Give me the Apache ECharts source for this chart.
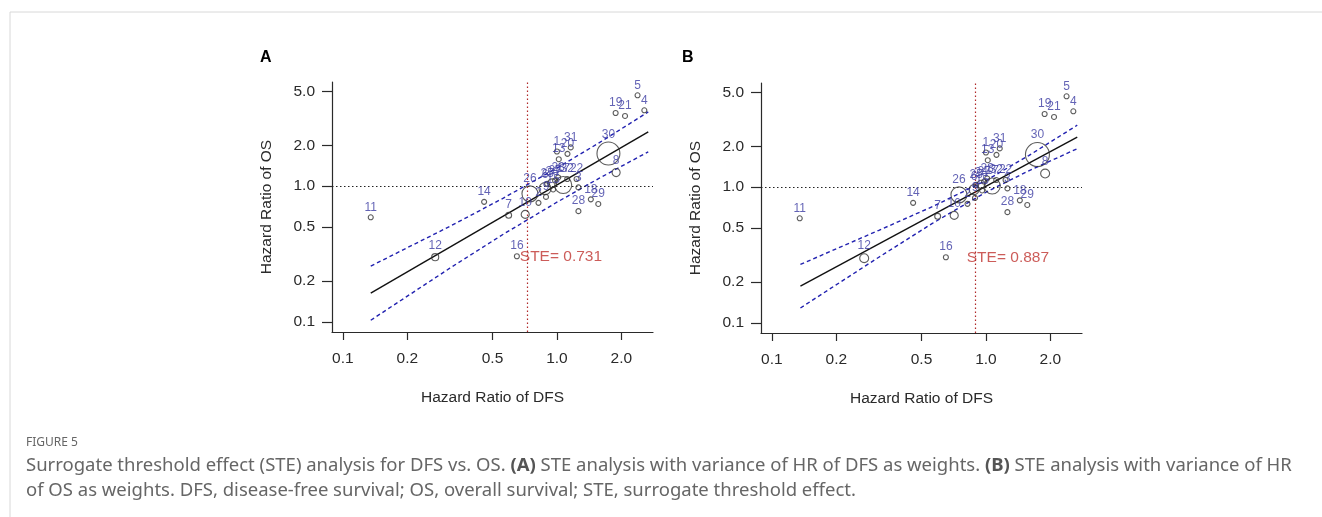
<!DOCTYPE html>
<html>
<head>
<meta charset="utf-8">
<script src="https://cdn.jsdelivr.net/npm/echarts@6/dist/echarts.min.js"></script>
<style>
  html, body { margin: 0; padding: 0; background: #fff; }
  #main { width: 1322px; height: 517px; }
</style>
</head>
<body>
<div id="main"></div>
<script>
// studies (same points in both panels)
const studyIds = ['1','2','3','4','5','6','7','8','9','10','11','12','13','14','15','16',
                  '17','18','19','20','21','22','23','24','25','26','27','28','29','30','31','32'];
const hrDFS = [1.00, 0.82, 1.26, 2.56, 2.38, 0.88, 0.595, 1.89, 0.889, 0.711, 0.135, 0.27, 1.02, 0.457, 0.96, 0.65,
               1.07, 1.44, 1.88, 1.12, 2.08, 1.235, 1.014, 0.95, 0.90, 0.748, 0.98, 1.26, 1.56, 1.74, 1.16, 1.117];
const hrOS  = [1.80, 0.754, 0.98, 3.62, 4.67, 0.96, 0.61, 1.26, 0.834, 0.62, 0.59, 0.30, 1.58, 0.767, 0.946, 0.305,
               1.02, 0.80, 3.46, 1.73, 3.29, 1.13, 1.16, 1.05, 1.04, 0.878, 1.10, 0.655, 0.74, 1.74, 1.93, 1.13];
// relative weights (panel A: 1/var HR DFS, panel B: 1/var HR OS)
const weightA = [1, 1, 1, 1, 1, 5.8, 1.4, 2.6, 1, 2.6, 1, 2.0, 1, 1, 1, 1,
                 11.6, 1, 1, 1, 1, 1, 1, 3.2, 1, 10.2, 1, 1, 1, 21, 1, 1];
const weightB = [1, 1, 1, 1, 1, 4.0, 1.4, 3.2, 1, 2.6, 1, 3.2, 1, 1, 1, 1,
                 10.2, 1, 1, 1, 1, 1, 1, 2.6, 1, 10.2, 1, 1, 1, 23, 1, 1];

// regression line and prediction limits (log-log)
const fitA   = [[0.135, 0.163], [2.67, 2.51]];
const upperA = [[0.135, 0.258], [0.316, 0.506], [0.562, 0.817], [1.0, 1.36], [1.585, 2.10], [2.67, 3.52]];
const lowerA = [[0.135, 0.103], [0.316, 0.249], [0.562, 0.443], [1.0, 0.762], [1.585, 1.15], [2.67, 1.79]];
const fitB   = [[0.136, 0.187], [2.67, 2.34]];
const upperB = [[0.136, 0.270], [0.316, 0.481], [0.562, 0.719], [1.0, 1.12], [1.585, 1.71], [2.67, 2.86]];
const lowerB = [[0.136, 0.129], [0.316, 0.305], [0.562, 0.541], [1.0, 0.918], [1.585, 1.32], [2.67, 1.92]];

const steA = 0.731;
const steB = 0.887;
const steLabelY = 0.30;

const xTicks = [0.1, 0.2, 0.5, 1.0, 2.0];
const yTicks = [0.1, 0.2, 0.5, 1.0, 2.0, 5.0];

const axisColor = '#2a2a2a';
const font = 'Liberation Sans, Arial, sans-serif';

function xAxisFor(g) {
  return {
    type: 'log', logBase: 10, gridIndex: g,
    min: 0.089, max: 2.81,
    axisLine: { show: true, onZero: false, lineStyle: { color: axisColor, width: 1.2 } },
    axisTick: { show: true, length: 8, customValues: xTicks, lineStyle: { color: axisColor, width: 1.2 } },
    axisLabel: { customValues: xTicks, formatter: v => Number(v).toFixed(1),
                 fontSize: 15.5, color: axisColor, margin: 19, fontFamily: font },
    splitLine: { show: false },
    name: 'Hazard Ratio of DFS', nameLocation: 'middle', nameGap: 58,
    nameTextStyle: { fontSize: 15.5, color: axisColor, fontFamily: font }
  };
}
function yAxisFor(g) {
  return {
    type: 'log', logBase: 10, gridIndex: g,
    min: 0.0844, max: 5.85,
    axisLine: { show: true, onZero: false, lineStyle: { color: axisColor, width: 1.2 } },
    axisTick: { show: true, length: 10, customValues: yTicks, lineStyle: { color: axisColor, width: 1.2 } },
    axisLabel: { customValues: yTicks, formatter: v => Number(v).toFixed(1),
                 fontSize: 15.5, color: axisColor, margin: 17, fontFamily: font },
    splitLine: { show: false },
    name: 'Hazard Ratio of OS', nameLocation: 'middle', nameGap: 57,
    nameTextStyle: { fontSize: 15.5, color: axisColor, fontFamily: font }
  };
}

function points(weights, g) {
  return {
    type: 'scatter', xAxisIndex: g, yAxisIndex: g, z: 5,
    data: studyIds.map((id, i) => ({ value: [hrDFS[i], hrOS[i]], name: id })),
    symbolSize: (val, p) => 5 * Math.sqrt(weights[p.dataIndex]),
    itemStyle: { color: 'rgba(0,0,0,0)', borderColor: '#333', borderWidth: 1.1 },
    label: { show: true, position: 'top', distance: 1, formatter: p => p.name,
             color: '#3c3ca2', fontSize: 12, fontFamily: font },
    labelLayout: { hideOverlap: false },
    emphasis: { disabled: true }
  };
}
function line(data, g, dashed) {
  return {
    type: 'line', xAxisIndex: g, yAxisIndex: g, data: data, symbol: 'none', smooth: false,
    lineStyle: dashed ? { color: '#2222b0', width: 1.4, type: [4, 3] } : { color: '#111', width: 1.4 },
    silent: true, z: 3
  };
}
function refLines(ste, g) {
  return {
    type: 'scatter', xAxisIndex: g, yAxisIndex: g, z: 4,
    data: [[ste, steLabelY]], symbolSize: 0,
    label: { show: true, position: 'right', distance: -8, formatter: 'STE= ' + ste,
             color: '#bf3330', fontSize: 15.5, fontFamily: font },
    markLine: {
      silent: true, symbol: 'none', label: { show: false },
      data: [
        { yAxis: 1, lineStyle: { color: '#222', type: [1.5, 2.5], width: 1.2 } },
        { xAxis: ste, lineStyle: { color: '#b02828', type: [1.5, 2.5], width: 1.2 } }
      ]
    }
  };
}

const chart = echarts.init(document.getElementById('main'));
chart.setOption({
  animation: false,
  backgroundColor: '#fff',
  grid: [
    { left: 332, top: 82, width: 321, height: 250 },
    { left: 761, top: 83, width: 321, height: 250 }
  ],
  xAxis: [xAxisFor(0), xAxisFor(1)],
  yAxis: [yAxisFor(0), yAxisFor(1)],
  title: [
    { text: 'A', left: 255, top: 45, textStyle: { fontSize: 16, fontWeight: 'bold', color: '#000', fontFamily: font } },
    { text: 'B', left: 677, top: 45, textStyle: { fontSize: 16, fontWeight: 'bold', color: '#000', fontFamily: font } },
    { text: 'FIGURE 5', left: 21, top: 432, textStyle: { fontSize: 12, fontWeight: 'normal', color: '#666', fontFamily: 'Noto Sans' } },
    {
      text: 'Surrogate threshold effect (STE) analysis for DFS vs. OS. {b|(A)} STE analysis with variance of HR of DFS as weights. {b|(B)} STE analysis with variance of HR\nof OS as weights. DFS, disease-free survival; OS, overall survival; STE, surrogate threshold effect.',
      left: 21, top: 448,
      textStyle: {
        fontSize: 18.5, fontWeight: 'normal', color: '#666', fontFamily: 'Noto Sans', lineHeight: 25,
        rich: { b: { fontSize: 18.5, fontWeight: 'bold', color: '#555', fontFamily: 'Noto Sans', lineHeight: 25 } }
      }
    }
  ],
  graphic: [
    { type: 'line', shape: { x1: 10, y1: 12, x2: 1322, y2: 12 }, style: { stroke: '#d8d8d8', lineWidth: 1 } },
    { type: 'line', shape: { x1: 10, y1: 12, x2: 10, y2: 517 }, style: { stroke: '#d8d8d8', lineWidth: 1 } }
  ],
  series: [
    refLines(steA, 0),
    line(fitA, 0, false), line(upperA, 0, true), line(lowerA, 0, true),
    points(weightA, 0),
    refLines(steB, 1),
    line(fitB, 1, false), line(upperB, 1, true), line(lowerB, 1, true),
    points(weightB, 1)
  ]
});
</script>
</body>
</html>
